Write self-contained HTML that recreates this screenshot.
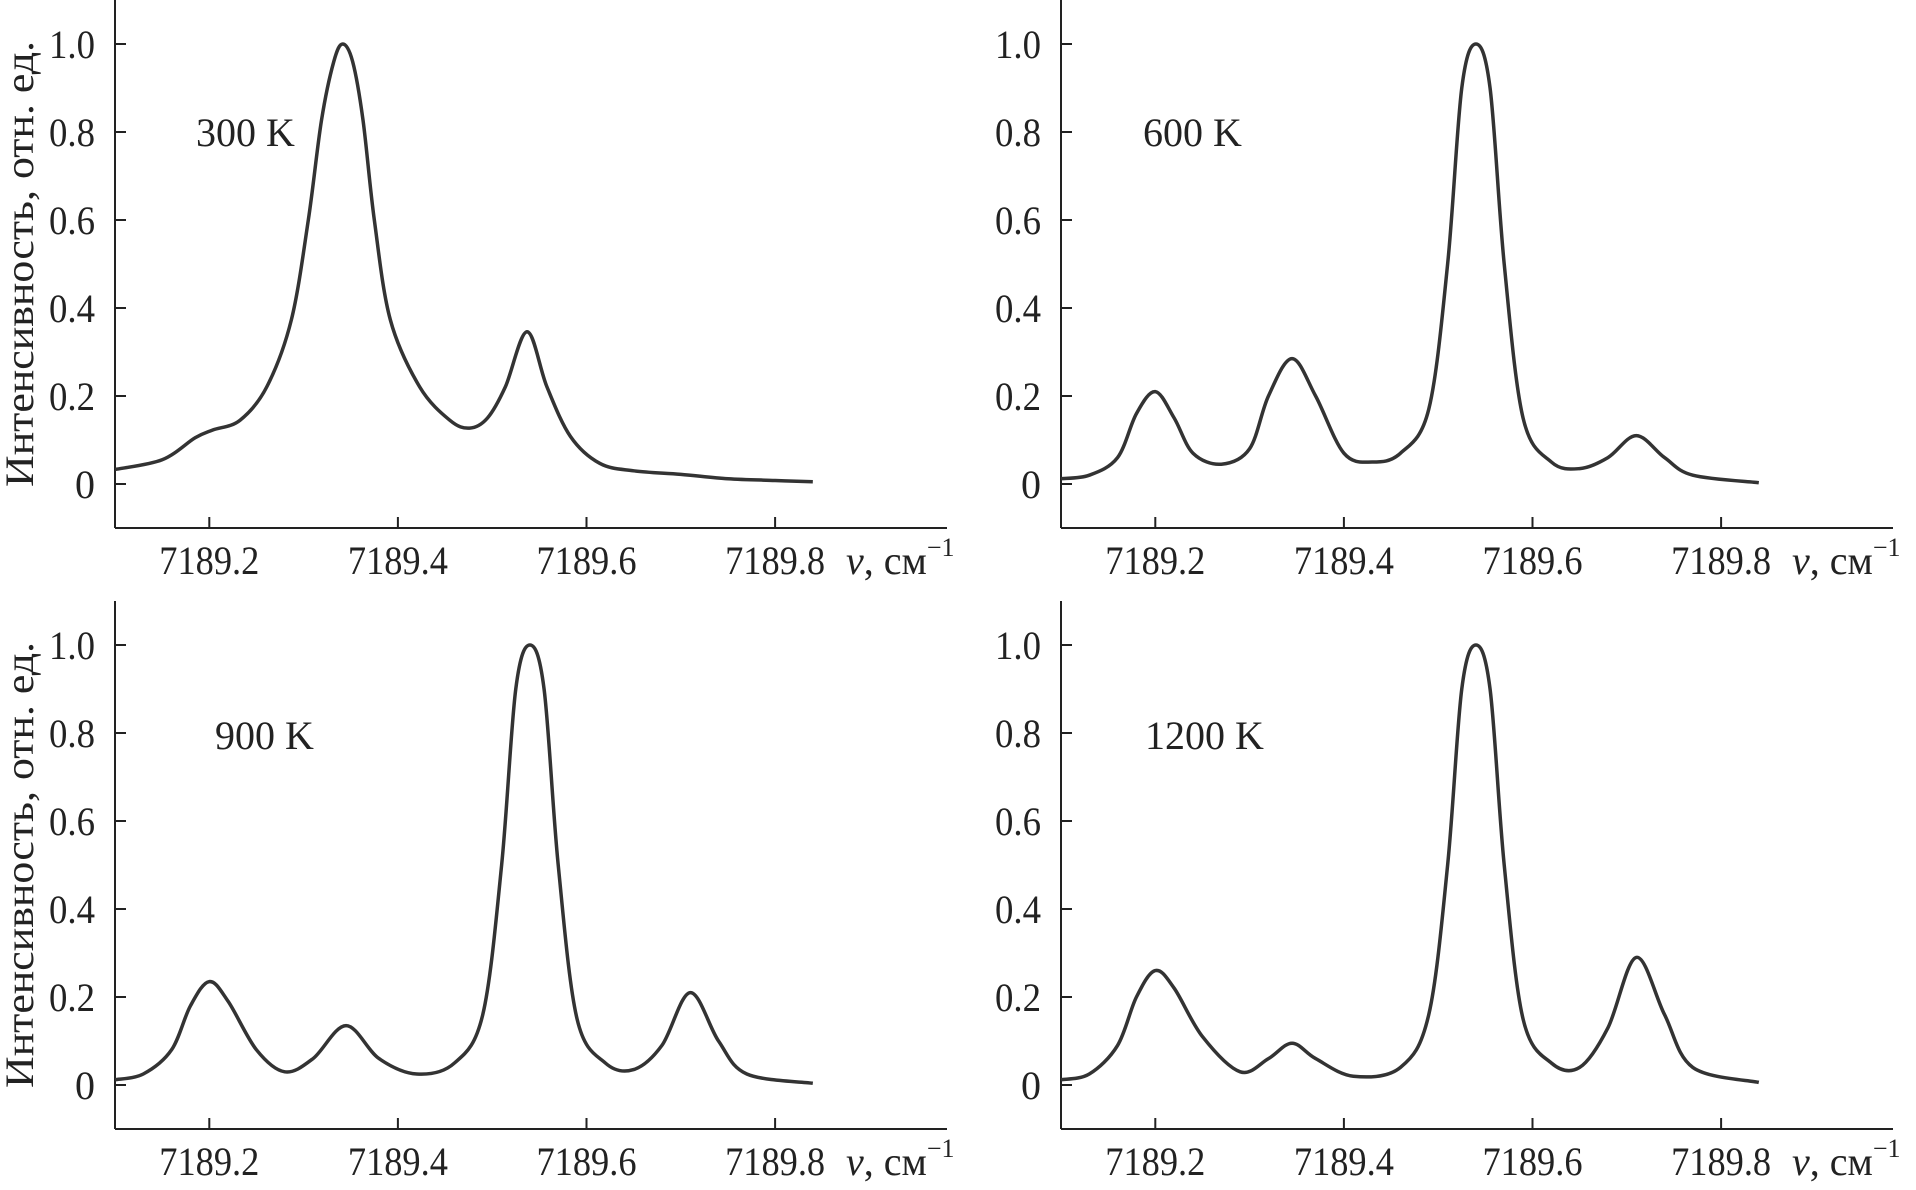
<!DOCTYPE html>
<html><head><meta charset="utf-8"><style>
body{margin:0;background:#fff}
svg{display:block}
text{font-family:"Liberation Serif",serif;fill:#222}
</style></head><body>
<svg id="chart" width="1916" height="1190" viewBox="0 0 1916 1190" xmlns="http://www.w3.org/2000/svg"></svg>
<script>
const panelLabels = ["300 K","600 K","900 K","1200 K"];
const xTicks = [7189.2,7189.4,7189.6,7189.8];
const xTickLabels = ["7189.2","7189.4","7189.6","7189.8"];
const yTicks = [0,0.2,0.4,0.6,0.8,1.0];
const yTickLabels = ["0","0.2","0.4","0.6","0.8","1.0"];
const x300 = [7189.10,7189.15,7189.185,7189.204,7189.2326,7189.261,7189.287,7189.305,7189.319,7189.332,7189.3415,7189.352,7189.363,7189.375,7189.392,7189.423,7189.455,7189.476,7189.495,7189.514,7189.537,7189.558,7189.583,7189.614,7189.65,7189.70,7189.75,7189.80,7189.84];
const y300 = [0.033,0.055,0.105,0.123,0.145,0.221,0.373,0.6,0.827,0.96,1.0,0.96,0.827,0.6,0.373,0.221,0.145,0.127,0.15,0.221,0.346,0.221,0.108,0.047,0.03,0.022,0.012,0.008,0.005];
const x600 = [7189.10,7189.13,7189.16,7189.18,7189.20,7189.22,7189.24,7189.27,7189.30,7189.32,7189.345,7189.37,7189.40,7189.43,7189.46,7189.49,7189.51,7189.525,7189.54,7189.555,7189.57,7189.59,7189.62,7189.65,7189.68,7189.71,7189.74,7189.77,7189.84];
const y600 = [0.012,0.02,0.06,0.16,0.21,0.15,0.07,0.045,0.08,0.2,0.285,0.2,0.07,0.05,0.07,0.17,0.5,0.9,1.0,0.9,0.5,0.15,0.05,0.035,0.06,0.11,0.06,0.02,0.003];
const x900 = [7189.10,7189.13,7189.16,7189.18,7189.20,7189.22,7189.25,7189.28,7189.31,7189.345,7189.38,7189.42,7189.46,7189.49,7189.51,7189.525,7189.54,7189.555,7189.57,7189.59,7189.62,7189.65,7189.68,7189.71,7189.74,7189.77,7189.84];
const y900 = [0.012,0.025,0.08,0.18,0.235,0.19,0.08,0.03,0.06,0.135,0.06,0.025,0.05,0.16,0.5,0.9,1.0,0.9,0.5,0.15,0.05,0.035,0.09,0.21,0.1,0.025,0.004];
const x1200 = [7189.10,7189.13,7189.16,7189.18,7189.20,7189.22,7189.25,7189.29,7189.32,7189.345,7189.37,7189.41,7189.46,7189.49,7189.51,7189.525,7189.54,7189.555,7189.57,7189.59,7189.62,7189.65,7189.68,7189.71,7189.74,7189.77,7189.84];
const y1200 = [0.012,0.025,0.09,0.2,0.26,0.22,0.11,0.03,0.06,0.095,0.06,0.02,0.04,0.16,0.5,0.9,1.0,0.9,0.5,0.15,0.05,0.04,0.13,0.29,0.16,0.04,0.006];
const seriesX=[x300,x600,x900,x1200], seriesY=[y300,y600,y900,y1200];

const NS="http://www.w3.org/2000/svg", svg=document.getElementById('chart');
function mk(t,a,p){const e=document.createElementNS(NS,t);for(const k in a)e.setAttribute(k,a[k]);(p||svg).appendChild(e);return e;}
const panels=[{ox:115,zy:484,ax:528,lab:[196,146],top:0},{ox:1061,zy:484,ax:528,lab:[1143,146],top:0},
{ox:115,zy:1085,ax:1129,lab:[215,749],top:601},{ox:1061,zy:1085,ax:1129,lab:[1145,749],top:601}];
const XU=943, YU=440, X0=7189.1;
panels.forEach((P,i)=>{
  const g=mk('g',{});
  
  
  const sx=v=>P.ox+(v-X0)*XU, sy=v=>P.zy-v*YU;
  const ya=mk('line',{x1:P.ox,y1:P.top,x2:P.ox,y2:P.ax,stroke:'#222','stroke-width':2},g);
  
  const xa=mk('line',{x1:P.ox,y1:P.ax,x2:P.ox+832,y2:P.ax,stroke:'#222','stroke-width':2},g);
  
  xTicks.forEach((v,j)=>{
    mk('line',{x1:sx(v),y1:P.ax,x2:sx(v),y2:P.ax-11,stroke:'#222','stroke-width':2},g);
    const t=mk('text',{x:sx(v),y:P.ax+46,'text-anchor':'middle','font-size':40,textLength:100,lengthAdjust:'spacingAndGlyphs'},g);
    t.textContent=xTickLabels[j];
    
  });
  yTicks.forEach((v,j)=>{
    mk('line',{x1:P.ox,y1:sy(v),x2:P.ox+11,y2:sy(v),stroke:'#222','stroke-width':2},g);
    const t=mk('text',{x:P.ox-20,y:sy(v)+14,'text-anchor':'end','font-size':40},g);
    if(j>0){t.setAttribute('textLength',46);t.setAttribute('lengthAdjust','spacingAndGlyphs');}
    t.textContent=yTickLabels[j];
    
  });
  const u=mk('text',{x:P.ox+731,y:P.ax+46,'font-size':40},g);
  u.innerHTML='<tspan font-style="italic">v</tspan>, см<tspan font-size="26" dy="-18">−1</tspan>';
  
  const l=mk('text',{x:P.lab[0],y:P.lab[1],'font-size':40},g);
  l.textContent=panelLabels[i];
  
  if(i%2==0){
    const yt=mk('text',{x:0,y:0,'font-size':40,'text-anchor':'middle',textLength:446,lengthAdjust:'spacingAndGlyphs',transform:`translate(33,${P.zy-220}) rotate(-90)`},g);
    yt.textContent='Интенсивность, отн. ед.';
    
  }
  const xs=seriesX[i], ys=seriesY[i];
  const pts=xs.map((v,k)=>[sx(v),sy(ys[k])]);
  let d='M'+pts[0][0]+','+pts[0][1];
  for(let k=0;k<pts.length-1;k++){
    const p0=pts[Math.max(k-1,0)],p1=pts[k],p2=pts[k+1],p3=pts[Math.min(k+2,pts.length-1)];
    const c1=[p1[0]+(p2[0]-p0[0])/6,p1[1]+(p2[1]-p0[1])/6],c2=[p2[0]-(p3[0]-p1[0])/6,p2[1]-(p3[1]-p1[1])/6];
    d+=`C${c1[0]},${c1[1]} ${c2[0]},${c2[1]} ${p2[0]},${p2[1]}`;
  }
  const path=mk('path',{d:d,fill:'none',stroke:'#333','stroke-width':3.5,'stroke-linejoin':'round'},g);
  
});
</script>
</body></html>
